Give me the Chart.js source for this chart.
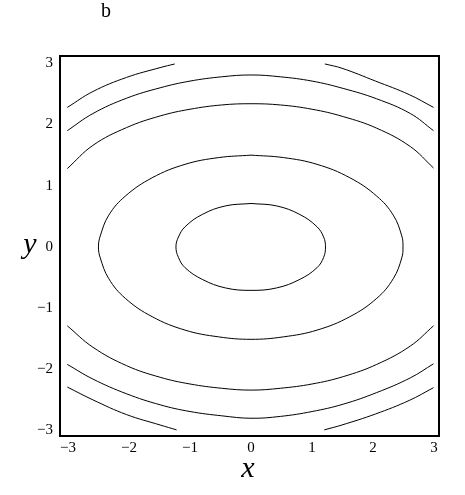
<!DOCTYPE html>
<html>
<head>
<meta charset="utf-8">
<title>Contour plot b</title>
<script src="https://cdn.jsdelivr.net/npm/chart.js@4.4.1/dist/chart.umd.min.js"></script>
<style>
    html, body { margin: 0; padding: 0; background: #fff; }
    #wrap { width: 465px; height: 495px; }
</style>
</head>
<body>
<div id="wrap"><canvas id="contourChart" width="465" height="495"></canvas></div>
<script>
// Tick values shared by both axes
const tickValues = [-3, -2, -1, 0, 1, 2, 3];

// Contour lines, [x, y] pairs
// Inner closed ring
const innerRing = [
    [0, 0.71], [0.42, 0.67], [0.80, 0.53], [1.08, 0.33], [1.19, 0.16], [1.22, 0],
    [1.19, -0.17], [1.08, -0.34], [0.80, -0.53], [0.42, -0.67], [0, -0.71],
    [-0.42, -0.67], [-0.80, -0.53], [-1.08, -0.34], [-1.19, -0.17], [-1.23, 0],
    [-1.19, 0.16], [-1.08, 0.33], [-0.80, 0.53], [-0.42, 0.67], [0, 0.71]
];

// Second closed ring
const middleRing = [
    [0, 1.50], [0.53, 1.46], [1.08, 1.35], [1.62, 1.13], [2.06, 0.83], [2.33, 0.52], [2.47, 0.18], [2.49, 0],
    [2.47, -0.18], [2.33, -0.52], [2.06, -0.84], [1.62, -1.14], [1.08, -1.36], [0.53, -1.47], [0, -1.51],
    [-0.53, -1.47], [-1.08, -1.36], [-1.62, -1.14], [-2.06, -0.84], [-2.33, -0.52], [-2.47, -0.18], [-2.50, 0],
    [-2.47, 0.18], [-2.33, 0.52], [-2.06, 0.83], [-1.62, 1.13], [-1.08, 1.35], [-0.53, 1.46], [0, 1.50]
];

// Third level, open arcs leaving through the sides
const thirdTop = [
    [-3.01, 1.28], [-2.59, 1.66], [-2.04, 1.95], [-1.49, 2.14], [-1.00, 2.25], [-0.48, 2.32], [0, 2.34],
    [0.48, 2.32], [1.00, 2.25], [1.51, 2.13], [2.06, 1.94], [2.61, 1.64], [2.99, 1.29]
];
const thirdBottom = [
    [-3.01, -1.29], [-2.59, -1.64], [-2.04, -1.94], [-1.49, -2.13], [-1.00, -2.24], [-0.48, -2.31], [0, -2.34],
    [0.48, -2.31], [1.00, -2.24], [1.51, -2.12], [2.06, -1.92], [2.61, -1.62], [2.99, -1.29]
];

// Fourth level
const fourthTop = [
    [-3.01, 1.90], [-2.59, 2.18], [-2.04, 2.43], [-1.49, 2.60], [-1.00, 2.71], [-0.48, 2.78], [0, 2.81],
    [0.48, 2.78], [1.00, 2.71], [1.51, 2.59], [2.06, 2.42], [2.61, 2.18], [2.99, 1.90]
];
const fourthBottom = [
    [-3.01, -1.92], [-2.59, -2.16], [-2.04, -2.40], [-1.49, -2.58], [-1.00, -2.69], [-0.48, -2.76], [0, -2.80],
    [0.48, -2.77], [1.00, -2.69], [1.51, -2.57], [2.06, -2.38], [2.61, -2.14], [2.99, -1.91]
];

// Fifth level, only the corner pieces are inside the box
const cornerTopLeft = [[-3.01, 2.28], [-2.59, 2.54], [-2.04, 2.77], [-1.49, 2.93], [-1.25, 2.99]];
const cornerTopRight = [[1.21, 2.99], [1.49, 2.92], [2.04, 2.71], [2.59, 2.49], [2.99, 2.28]];
const cornerBottomLeft = [[-3.01, -2.29], [-2.59, -2.50], [-2.04, -2.74], [-1.49, -2.91], [-1.22, -2.99]];
const cornerBottomRight = [[1.20, -2.99], [1.49, -2.91], [2.04, -2.73], [2.59, -2.51], [2.99, -2.30]];

const contourLines = [
    innerRing, middleRing, thirdTop, thirdBottom, fourthTop, fourthBottom,
    cornerTopLeft, cornerTopRight, cornerBottomLeft, cornerBottomRight
];

const serif = '"Liberation Serif", "DejaVu Serif", serif';

// Format negative numbers with a real minus sign
function formatTick(value) {
    return value < 0 ? '\u2212' + Math.abs(value) : String(value);
}

// Frame around the plot and the free-standing texts
const framePlugin = {
    id: 'frameAndLabels',
    afterDraw(chart) {
        const { ctx, chartArea } = chart;
        ctx.save();
        ctx.strokeStyle = '#000';
        ctx.lineWidth = 2;
        ctx.strokeRect(chartArea.left, chartArea.top, chartArea.right - chartArea.left, chartArea.bottom - chartArea.top);

        ctx.fillStyle = '#000';
        ctx.textAlign = 'center';
        ctx.textBaseline = 'alphabetic';
        ctx.font = '20px ' + serif;
        ctx.fillText('b', 106, 17);

        ctx.font = 'italic 30px ' + serif;
        ctx.fillText('y', 30, 253);
        ctx.fillText('x', 248, 477);
        ctx.restore();
    }
};

function buildDatasets() {
    return contourLines.map(line => ({
        data: line.map(p => ({ x: p[0], y: p[1] })),
        showLine: true,
        borderColor: '#000',
        borderWidth: 1,
        pointRadius: 0,
        tension: 0.4,
        fill: false
    }));
}

function axisOptions(min, max, isY) {
    return {
        type: 'linear',
        min: min,
        max: max,
        grid: { display: false, drawTicks: false },
        border: { display: false },
        afterBuildTicks: scale => {
            scale.ticks = tickValues.map(v => ({ value: v }));
        },
        afterFit: scale => {
            if (isY) {
                scale.width = 60;
            } else {
                scale.height = 59;
            }
        },
        ticks: {
            color: '#000',
            padding: isY ? 7 : 3,
            maxRotation: 0,
            autoSkip: false,
            font: { family: serif, size: 15 },
            callback: value => formatTick(value)
        }
    };
}

function renderContourChart() {
    const ctx = document.getElementById('contourChart').getContext('2d');
    new Chart(ctx, {
        type: 'scatter',
        data: { datasets: buildDatasets() },
        options: {
            responsive: false,
            animation: false,
            devicePixelRatio: 1,
            layout: { padding: { top: 56, right: 26, bottom: 0, left: 0 } },
            scales: {
                x: axisOptions(-3.13, 3.08, false),
                y: axisOptions(-3.09, 3.12, true)
            },
            plugins: {
                legend: { display: false },
                tooltip: { enabled: false }
            }
        },
        plugins: [framePlugin]
    });
}

renderContourChart();
</script>
</body>
</html>
